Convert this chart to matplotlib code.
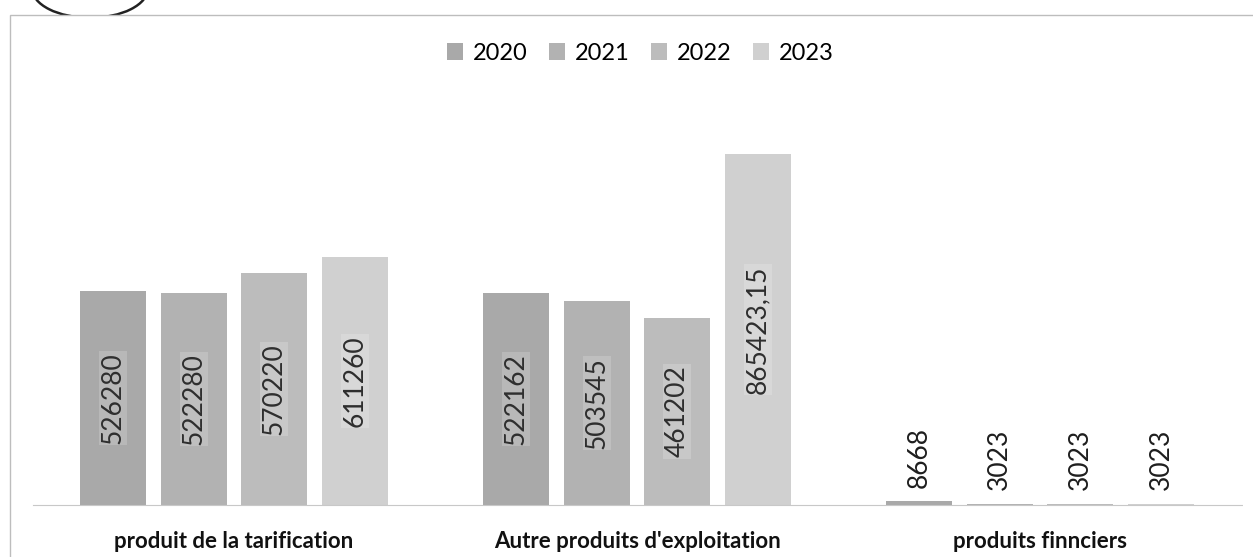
import numpy as np
import matplotlib.pyplot as plt
from matplotlib.patches import Ellipse, Rectangle

plt.rcParams['font.family'] = ['Lato', 'DejaVu Sans']

categories = ["produit de la tarification", "Autre produits d'exploitation", "produits finnciers"]
years = ['2020', '2021', '2022', '2023']
v2020 = [526280, 522162, 8668]
v2021 = [522280, 503545, 3023]
v2022 = [570220, 461202, 3023]
v2023 = [611260, 865423.15, 3023]
series = [v2020, v2021, v2022, v2023]
colors = ['#a9a9a9', '#b2b2b2', '#bcbcbc', '#d0d0d0']


def fmt(v):
    if v % 1:
        return f"{v:.2f}".replace('.', ',')
    return f"{v:.0f}"


fig = plt.figure(figsize=(12.53, 5.57), dpi=100)

# stamp circle behind the chart area + chart frame
fig.add_artist(Ellipse((90/1253, 1 + 11.7/557), 116/1253, 59/557,
                       transform=fig.transFigure, fill=False, edgecolor='#222222',
                       lw=1.8, zorder=-2))
fig.add_artist(Rectangle((10/1253, -0.1), 1.2, 1.1 - 15/557,
                         transform=fig.transFigure, facecolor='white',
                         edgecolor='#bdbdbd', lw=1, zorder=-1))

ax = fig.add_axes([32.5/1253, 52/557, 1209/1253, 406/557])
ax.set_facecolor('none')

x = np.arange(len(categories))
step = 0.2
width = 0.164
for i, (vals, col, yr) in enumerate(zip(series, colors, years)):
    xs = x + (i - 1.5) * step
    ax.bar(xs, vals, width, color=col, label=yr, zorder=2)
    for xx, v in zip(xs, vals):
        if v > 100000:
            ax.text(xx, v / 2, fmt(v), rotation=90, ha='center', va='center',
                    fontsize=19, color='#2e2e2e', zorder=3,
                    bbox=dict(boxstyle='square,pad=0.05', facecolor='white',
                              edgecolor='none', alpha=0.18))
        else:
            ax.annotate(fmt(v), (xx, v), xytext=(0, 10), textcoords='offset points',
                        rotation=90, ha='center', va='bottom',
                        fontsize=19, color='#1e1e1e', zorder=3)

ax.set_xlim(-0.5, 2.5)
ax.set_ylim(0, 1000000)
ax.set_yticks([])
ax.set_xticks(x)
ax.set_xticklabels(categories, fontsize=16, fontweight='bold', color='#111111')
ax.tick_params(axis='x', length=0, pad=19)
for s in ['top', 'right', 'left']:
    ax.spines[s].set_visible(False)
ax.spines['bottom'].set_color('#c8c8c8')
ax.spines['bottom'].set_linestyle((0, (2, 1)))

fig.legend(loc='center', bbox_to_anchor=(0.511, 1 - 53/557), ncol=4, frameon=False,
           fontsize=17, handlelength=0.7, handleheight=0.7, handletextpad=0.4,
           columnspacing=0.9)

fig.savefig('out.png', dpi=100)
